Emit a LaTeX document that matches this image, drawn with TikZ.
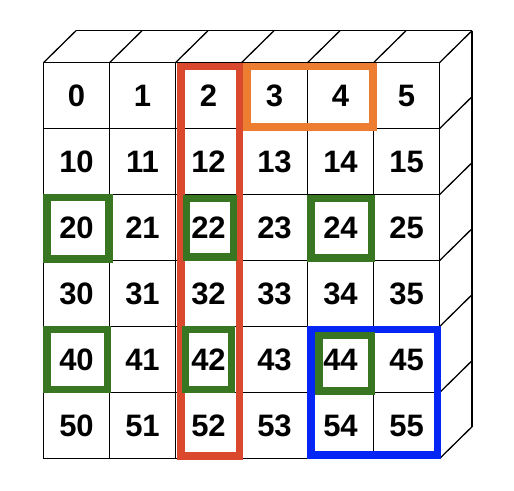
\documentclass[tikz,border=0pt]{standalone}
\usepackage{fontspec}
\setsansfont{Liberation Sans}
\definecolor{hlred}{RGB}{218,72,46}
\definecolor{hlorange}{RGB}{237,125,49}
\definecolor{hlgreen}{RGB}{56,118,34}
\definecolor{hlblue}{RGB}{4,38,245}
\begin{document}
\begin{tikzpicture}[x=1pt,y=1pt,
  cell/.style={draw=black,line width=1.3pt,minimum width=66pt,minimum height=66pt,
    inner sep=0pt,outer sep=0pt,font=\sffamily\bfseries\fontsize{31}{31}\selectfont},
  edge3d/.style={draw=black,line width=1.3pt},
  hl/.style={line width=7.5pt},
  redbox/.style={hl,draw=hlred},
  orangebox/.style={hl,draw=hlorange},
  bluebox/.style={hl,draw=hlblue},
  greenbox/.style={hl,draw=hlgreen}]
\useasboundingbox (0,0) rectangle (514,490);
\fill[white] (0,0) rectangle (514,490);
\foreach \r in {0,...,5}{
  \foreach \c in {0,...,5}{
    \pgfmathtruncatemacro\n{10*\r+\c}
    \node[cell] (c-\r-\c) at ({76.5+66*\c},{394.3-66*\r}) {\n};
  }
}
% top face
\foreach \c in {0,...,5}{
  \draw[edge3d] (c-0-\c.north west) -- ++(32.5,32);
}
\draw[edge3d] (c-0-5.north east) -- ++(32.5,32) coordinate (tr);
\draw[edge3d] ([shift={(32.5,32)}]c-0-0.north west) -- (tr);
% right face
\foreach \r in {1,...,5}{
  \draw[edge3d] (c-\r-5.north east) -- ++(32.5,32);
}
\draw[edge3d] (c-5-5.south east) -- ++(32.5,32) coordinate (br);
\draw[edge3d] (tr) -- (br);
% highlights
\draw[redbox] ([shift={(5.25,-3.75)}]c-0-2.north west) rectangle ([shift={(-2.25,2.45)}]c-5-2.south east);
\draw[orangebox] ([shift={(5.55,-3.75)}]c-0-3.north west) rectangle ([shift={(-0.55,1.45)}]c-0-4.south east);
\draw[bluebox] ([shift={(3.55,-3.05)}]c-4-4.north west) rectangle ([shift={(-2.25,3.45)}]c-5-5.south east);
\draw[greenbox] ([shift={(3.55,-3.05)}]c-2-0.north west) rectangle ([shift={(-0.55,1.75)}]c-2-0.south east);
\draw[greenbox] ([shift={(10.95,-4.05)}]c-2-2.north west) rectangle ([shift={(-7.95,3.75)}]c-2-2.south east);
\draw[greenbox] ([shift={(3.55,-4.05)}]c-2-4.north west) rectangle ([shift={(-2.25,2.75)}]c-2-4.south east);
\draw[greenbox] ([shift={(3.55,-3.05)}]c-4-0.north west) rectangle ([shift={(-2.25,3.15)}]c-4-0.south east);
\draw[greenbox] ([shift={(9.95,-3.05)}]c-4-2.north west) rectangle ([shift={(-10.25,3.15)}]c-4-2.south east);
\draw[greenbox] ([shift={(11.25,-9.05)}]c-4-4.north west) rectangle ([shift={(-2.25,1.45)}]c-4-4.south east);
\end{tikzpicture}
\end{document}
